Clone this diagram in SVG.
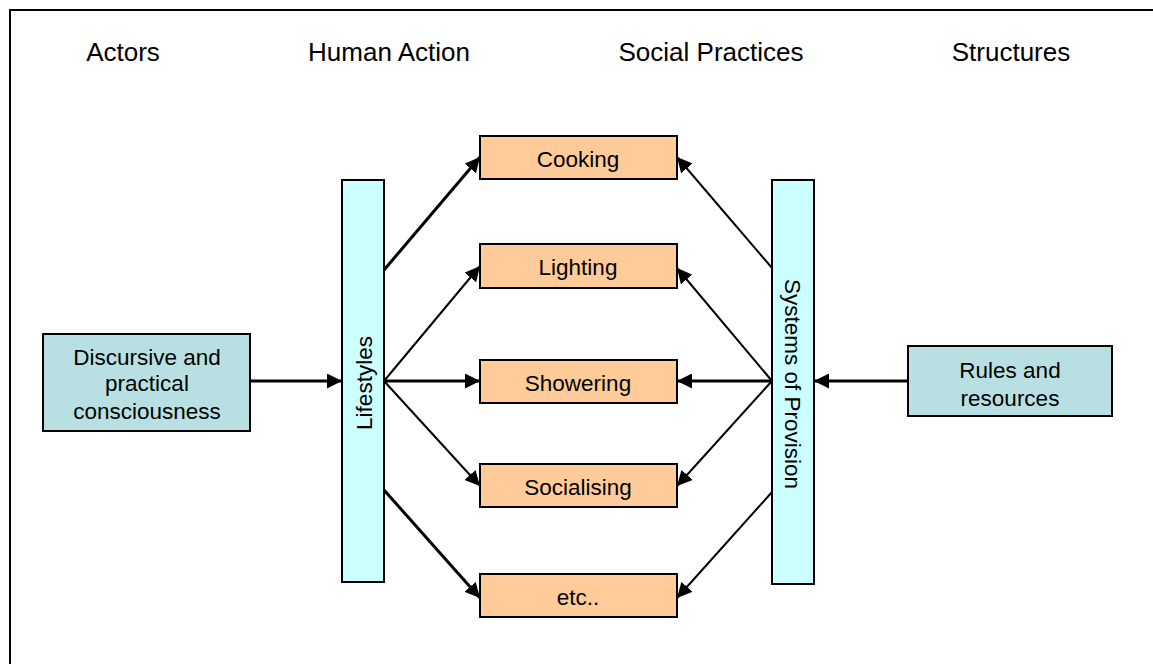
<svg xmlns="http://www.w3.org/2000/svg" width="1153" height="664" viewBox="0 0 1153 664">
<style>
text{font-family:"Liberation Sans",Arial,sans-serif;fill:#000}
.h{font-size:26px;text-anchor:middle}
.t{font-size:22.5px;text-anchor:middle}
.b{stroke:#000;stroke-width:2}
.o{fill:#FFCC99}
.c{fill:#CCFFFF}
.g{fill:#B8E0E3}
.a{stroke:#000;fill:none;marker-end:url(#ah)}
.th{stroke-width:3}
.tn{stroke-width:2}
</style>
<defs>
<marker id="ah" viewBox="0 0 10 10" refX="10" refY="5" markerWidth="5" markerHeight="5" orient="auto" markerUnits="strokeWidth">
<path d="M0,0 L10,5 L0,10 z" fill="#000"/>
</marker>
<marker id="ah2" viewBox="0 0 10 10" refX="10" refY="5" markerWidth="7.5" markerHeight="7.5" orient="auto" markerUnits="strokeWidth">
<path d="M0,0 L10,5 L0,10 z" fill="#000"/>
</marker>
</defs>
<rect width="1153" height="664" fill="#fff"/>
<path d="M10,670 V10 H1160" fill="none" stroke="#000" stroke-width="2"/>
<g id="headers">
<text class="h" x="123" y="61">Actors</text>
<text class="h" x="389" y="61">Human Action</text>
<text class="h" x="711" y="61">Social Practices</text>
<text class="h" x="1011" y="61">Structures</text>
</g>
<g id="connectors">
<line class="a th" x1="250" y1="381" x2="342" y2="381"/>
<line class="a th" x1="384" y1="270" x2="480" y2="157"/>
<line class="a tn" x1="384" y1="381" x2="480" y2="266" style="marker-end:url(#ah2)"/>
<line class="a th" x1="384" y1="381" x2="480" y2="381"/>
<line class="a tn" x1="384" y1="381" x2="480" y2="486" style="marker-end:url(#ah2)"/>
<line class="a th" x1="384" y1="490" x2="480" y2="598"/>
<line class="a tn" x1="772" y1="268" x2="677" y2="157" style="marker-end:url(#ah2)"/>
<line class="a tn" x1="772" y1="381" x2="677" y2="268" style="marker-end:url(#ah2)"/>
<line class="a th" x1="772" y1="381" x2="677" y2="381"/>
<line class="a tn" x1="772" y1="381" x2="677" y2="486" style="marker-end:url(#ah2)"/>
<line class="a tn" x1="772" y1="492" x2="677" y2="598" style="marker-end:url(#ah2)"/>
<line class="a th" x1="908" y1="381" x2="814" y2="381"/>
</g>
<g id="discursive">
<rect class="b g" x="43" y="334" width="207" height="97"/>
<text class="t" x="147" y="365">Discursive and</text>
<text class="t" x="147" y="391">practical</text>
<text class="t" x="147" y="419">consciousness</text>
</g>
<g id="lifestyles">
<rect class="b c" x="342" y="180" width="42" height="402"/>
<text class="t" transform="translate(372,383) rotate(-90)">Lifestyles</text>
</g>
<g id="cooking">
<rect class="b o" x="480" y="136" width="197" height="43"/>
<text class="t" x="578" y="167">Cooking</text>
</g>
<g id="lighting">
<rect class="b o" x="480" y="244" width="197" height="44"/>
<text class="t" x="578" y="275">Lighting</text>
</g>
<g id="showering">
<rect class="b o" x="480" y="360" width="197" height="43"/>
<text class="t" x="578" y="391">Showering</text>
</g>
<g id="socialising">
<rect class="b o" x="480" y="464" width="197" height="43"/>
<text class="t" x="578" y="495">Socialising</text>
</g>
<g id="etc">
<rect class="b o" x="480" y="574" width="197" height="43"/>
<text class="t" x="578" y="605">etc..</text>
</g>
<g id="systems">
<rect class="b c" x="772" y="180" width="42" height="404"/>
<text class="t" transform="translate(785,384) rotate(90)">Systems of Provision</text>
</g>
<g id="rules">
<rect class="b g" x="908" y="346" width="204" height="70"/>
<text class="t" x="1010" y="378">Rules and</text>
<text class="t" x="1010" y="406">resources</text>
</g>
</svg>
